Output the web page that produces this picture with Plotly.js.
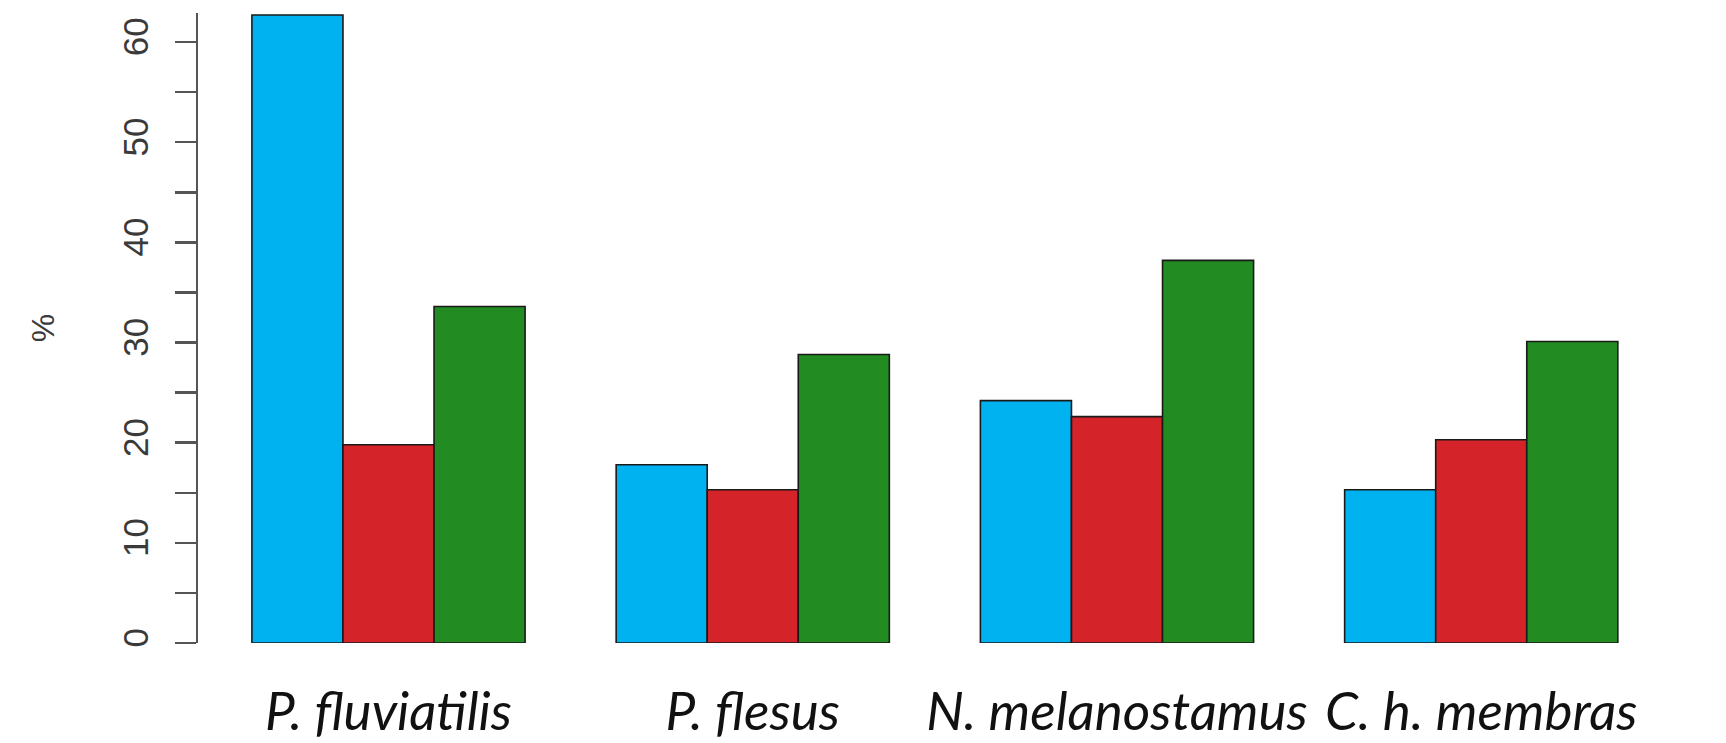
<!DOCTYPE html>
<html>
<head>
<meta charset="utf-8">
<script src="https://cdn.plot.ly/plotly-3.0.1.min.js"></script>
<style>
  html, body { margin: 0; padding: 0; background: #ffffff; }
  #chart { width: 1726px; height: 743px; }
</style>
</head>
<body>
<div id="chart"></div>
<script>
// Species groups along the x axis
const species = ['P. fluviatilis', 'P. flesus', 'N. melanostamus', 'C. h. membras'];

// Percentages for the three bars in each group
const seriesBlue  = [62.7, 17.8, 24.2, 15.3];
const seriesRed   = [19.8, 15.3, 22.6, 20.3];
const seriesGreen = [33.6, 28.8, 38.2, 30.1];

// Y axis labelled ticks
const yTicks = [0, 10, 20, 30, 40, 50, 60];

const outline = { color: '#1a1a1a', width: 1.6 };

function barTrace(values, color, name) {
  return {
    type: 'bar',
    name: name,
    x: species,
    y: values,
    marker: { color: color, line: outline },
    hoverinfo: 'x+y'
  };
}

const data = [
  barTrace(seriesBlue,  '#00B2EF', 'a'),
  barTrace(seriesRed,   '#D42329', 'b'),
  barTrace(seriesGreen, '#228B22', 'c')
];

const layout = {
  width: 1726,
  height: 743,
  margin: { l: 198, r: 0, t: 13, b: 100 },
  paper_bgcolor: '#ffffff',
  plot_bgcolor: '#ffffff',
  showlegend: false,
  barmode: 'group',
  bargap: 0.25,
  bargroupgap: 0,
  xaxis: {
    range: [-0.523, 3.672],
    showline: false,
    showgrid: false,
    zeroline: false,
    ticks: '',
    tickangle: 0,
    tickfont: { family: 'Lato, "Open Sans", sans-serif', size: 53, style: 'italic', color: '#111111' },
    ticklabelstandoff: 33
  },
  yaxis: {
    range: [0, 62.9],
    showgrid: false,
    zeroline: false,
    showline: true,
    linecolor: '#555555',
    linewidth: 2.5,
    tickmode: 'array',
    tickvals: yTicks,
    ticks: 'outside',
    ticklen: 21,
    tickwidth: 2.5,
    tickcolor: '#555555',
    tickangle: -90,
    ticklabelstandoff: 13,
    tickfont: { family: '"Liberation Sans", Arial, sans-serif', size: 35, color: '#3a3a3a' },
    minor: { dtick: 5, ticks: 'outside', ticklen: 21, tickwidth: 2.5, tickcolor: '#555555' },
    title: {
      text: '%',
      standoff: 52,
      font: { family: '"Liberation Sans", Arial, sans-serif', size: 32, color: '#3a3a3a' }
    }
  }
};

Plotly.newPlot('chart', data, layout, { displayModeBar: false, staticPlot: true });
</script>
</body>
</html>
